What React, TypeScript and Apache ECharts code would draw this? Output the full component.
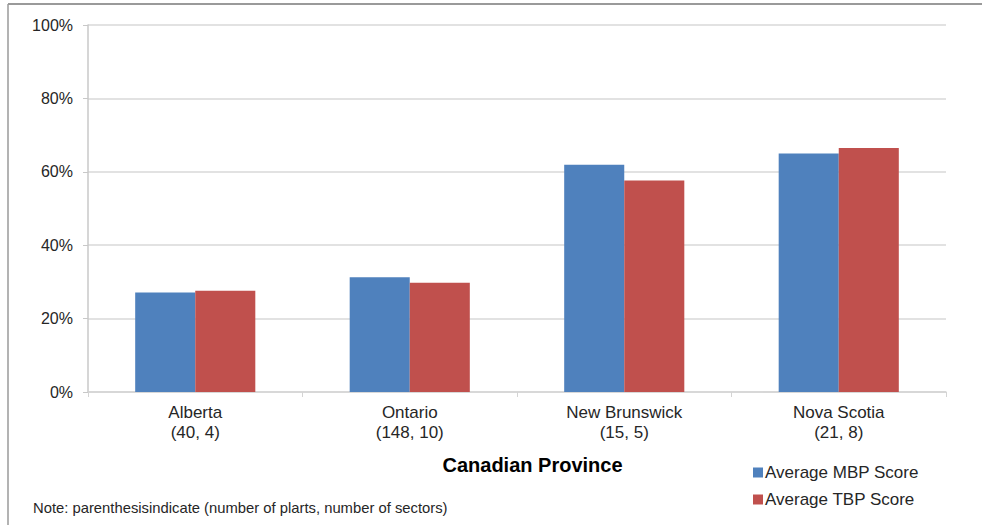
import React, { useEffect, useRef } from "react";
import * as echarts from "echarts";

// Provinces on the x axis, with (plants, sectors) shown under each name
const provinces = ["Alberta", "Ontario", "New Brunswick", "Nova Scotia"];
const plantCounts = [40, 148, 15, 21];
const sectorCounts = [4, 10, 5, 8];

// Average scores, in percent
const mbpScores = [27.1, 31.3, 61.9, 65.0];
const tbpScores = [27.6, 29.8, 57.6, 66.5];

const yTicks = [0, 20, 40, 60, 80, 100];

const FONT = "'Liberation Sans', Arial, sans-serif";

export default function App() {
  const ref = useRef<HTMLDivElement>(null);

  useEffect(() => {
    if (!ref.current) return;
    const chart = echarts.init(ref.current, undefined, { renderer: "svg" });
    chart.setOption({
      animation: false,
      backgroundColor: "#ffffff",
      textStyle: { fontFamily: FONT },
      grid: { left: 88, right: 36, top: 25, bottom: 133, containLabel: false },
      xAxis: {
        type: "category",
        data: provinces,
        name: "Canadian Province",
        nameLocation: "middle",
        nameGap: 63,
        nameTextStyle: {
          fontFamily: FONT,
          fontSize: 20,
          fontWeight: "bold",
          color: "#000000",
          padding: [0, 0, 0, 31],
        },
        axisLine: { show: true, lineStyle: { color: "#d4d4d4", width: 1.5 } },
        axisTick: { show: true, length: 5, lineStyle: { color: "#d4d4d4" } },
        axisLabel: {
          margin: 10,
          fontFamily: FONT,
          fontSize: 17,
          lineHeight: 20,
          color: "#262626",
          formatter: (v: string, i: number) =>
            `${v}\n(${plantCounts[i]}, ${sectorCounts[i]})`,
        },
      },
      yAxis: {
        type: "value",
        min: 0,
        max: yTicks[yTicks.length - 1],
        interval: yTicks[1] - yTicks[0],
        axisLine: { show: true, lineStyle: { color: "#c8c8c8", width: 1.5 } },
        axisTick: { show: true, length: 5, lineStyle: { color: "#c8c8c8" } },
        axisLabel: {
          margin: 15,
          fontFamily: FONT,
          fontSize: 16,
          color: "#262626",
          formatter: (v: number) => `${v}%`,
        },
        splitLine: { show: true, lineStyle: { color: "#d9d9d9", width: 1.5 } },
      },
      legend: {
        orient: "vertical",
        left: 748,
        top: 459,
        itemWidth: 10,
        itemHeight: 10,
        itemGap: 10,
        icon: "rect",
        textStyle: { fontFamily: FONT, fontSize: 17, color: "#262626", padding: [0, 0, 0, -3] },
        data: ["Average MBP Score", "Average TBP Score"],
      },
      series: [
        {
          name: "Average MBP Score",
          type: "bar",
          data: mbpScores,
          barGap: "0%",
          barCategoryGap: "44%",
          itemStyle: { color: "#4f81bd" },
        },
        {
          name: "Average TBP Score",
          type: "bar",
          data: tbpScores,
          itemStyle: { color: "#c0504d" },
        },
      ],
      graphic: [
        {
          type: "line",
          shape: { x1: 8, y1: 4, x2: 982, y2: 4 },
          style: { stroke: "#9a9a9a", lineWidth: 2 },
        },
        {
          type: "line",
          shape: { x1: 8, y1: 4, x2: 8, y2: 525 },
          style: { stroke: "#9a9a9a", lineWidth: 1.5 },
        },
        {
          type: "text",
          left: 33,
          top: 500,
          style: {
            text: "Note: parenthesisindicate (number of plarts, number of sectors)",
            fontFamily: FONT,
            fontSize: 14.8,
            fill: "#262626",
          },
        },
      ],
    });
    return () => chart.dispose();
  }, []);

  return (
    <div
      ref={ref}
      style={{ position: "fixed", left: 0, top: 0, width: 982, height: 525 }}
    />
  );
}
